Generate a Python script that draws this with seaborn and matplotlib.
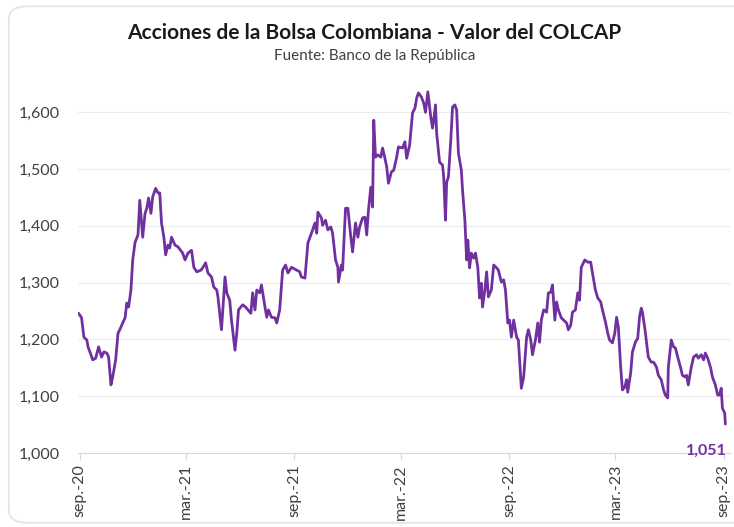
import pandas as pd
import numpy as np
import matplotlib
matplotlib.use("Agg")
import matplotlib.pyplot as plt
from matplotlib.patches import FancyBboxPatch
import seaborn as sns

# Data: days after 2020-09-01 and COLCAP value
days = [-2, 3, 7, 12, 14, 19, 22, 27, 32, 37, 41, 46, 49, 53, 56, 61, 65, 68, 73, 77,
        80, 83, 87, 90, 94, 99, 102, 105, 107, 111, 114, 117, 121, 124, 129, 133, 136, 139, 143, 146,
        150, 153, 156, 162, 167, 175, 179, 184, 190, 194, 199, 206, 209, 214, 218, 224, 228, 233, 235, 241,
        247, 250, 255, 258, 264, 267, 270, 277, 282, 286, 291, 294, 298, 301, 306, 309, 315, 318, 321, 326,
        332, 335, 340, 345, 350, 354, 360, 369, 374, 377, 383, 388, 394, 400, 403, 405, 411, 413, 418, 422,
        427, 430, 435, 439, 440, 445, 447, 452, 456, 461, 464, 469, 473, 476, 481, 485, 488, 491, 495, 498,
        500, 503, 507, 512, 515, 519, 522, 525, 530, 534, 539, 542, 549, 553, 556, 561, 566, 570, 573, 576,
        581, 585, 588, 592, 597, 600, 602, 605, 607, 612, 617, 619, 622, 624, 627, 631, 634, 638, 641, 644,
        649, 651, 655, 658, 660, 663, 666, 670, 673, 677, 680, 683, 685, 689, 692, 695, 700, 704, 709, 712,
        717, 721, 724, 728, 731, 734, 738, 743, 746, 750, 751, 755, 760, 763, 767, 770, 775, 779, 782, 785,
        789, 794, 797, 801, 804, 808, 811, 814, 819, 823, 828, 831, 835, 838, 843, 847, 850, 853, 859, 864,
        869, 872, 877, 881, 886, 889, 894, 898, 901, 906, 910, 913, 916, 920, 923, 927, 930, 932, 937, 940,
        945, 949, 952, 955, 957, 961, 964, 967, 972, 976, 981, 984, 989, 993, 996, 1000, 1001, 1006, 1010, 1013,
        1017, 1022, 1025, 1029, 1032, 1035, 1040, 1044, 1049, 1052, 1057, 1061, 1064, 1068, 1073, 1076, 1081, 1085, 1088, 1091,
        1093, 1097, 1098]

colcap = [1246, 1238, 1204, 1199, 1187, 1173, 1164, 1167, 1187, 1169, 1178, 1176, 1169, 1120, 1134, 1164, 1211, 1217, 1229, 1238,
          1264, 1257, 1287, 1340, 1371, 1384, 1445, 1405, 1380, 1422, 1431, 1449, 1422, 1451, 1466, 1458, 1458, 1405, 1380, 1349,
          1366, 1361, 1380, 1366, 1363, 1352, 1340, 1352, 1357, 1327, 1319, 1322, 1326, 1335, 1317, 1310, 1292, 1287, 1275, 1217,
          1310, 1282, 1269, 1234, 1181, 1211, 1252, 1261, 1257, 1252, 1246, 1282, 1252, 1287, 1282, 1296, 1257, 1239, 1252, 1239,
          1238, 1229, 1252, 1322, 1331, 1317, 1327, 1322, 1319, 1310, 1308, 1370, 1387, 1405, 1387, 1424, 1414, 1401, 1410, 1393,
          1398, 1387, 1340, 1327, 1301, 1331, 1322, 1431, 1431, 1380, 1354, 1405, 1380, 1398, 1414, 1415, 1384, 1428, 1468, 1433,
          1586, 1521, 1525, 1521, 1537, 1519, 1504, 1475, 1495, 1498, 1521, 1539, 1537, 1548, 1519, 1542, 1599, 1607, 1625, 1634,
          1627, 1616, 1600, 1636, 1592, 1572, 1586, 1613, 1563, 1512, 1507, 1486, 1410, 1477, 1486, 1551, 1609, 1613, 1604, 1528,
          1498, 1463, 1410, 1340, 1375, 1326, 1352, 1343, 1352, 1327, 1273, 1299, 1257, 1287, 1319, 1275, 1287, 1331, 1326, 1322,
          1301, 1305, 1287, 1229, 1234, 1204, 1234, 1204, 1199, 1129, 1114, 1134, 1204, 1217, 1199, 1173, 1199, 1229, 1195, 1234,
          1252, 1248, 1282, 1283, 1296, 1234, 1266, 1252, 1238, 1234, 1229, 1217, 1225, 1248, 1252, 1282, 1269, 1327, 1340, 1336,
          1336, 1317, 1287, 1273, 1266, 1252, 1231, 1211, 1199, 1194, 1211, 1239, 1222, 1151, 1111, 1116, 1129, 1107, 1141, 1178,
          1195, 1202, 1239, 1255, 1248, 1220, 1195, 1169, 1160, 1160, 1151, 1137, 1129, 1111, 1102, 1097, 1150, 1199, 1187, 1185,
          1169, 1150, 1137, 1134, 1137, 1120, 1151, 1169, 1173, 1167, 1173, 1164, 1176, 1167, 1150, 1134, 1120, 1102, 1102, 1114,
          1079, 1070, 1051]

tick_dates = ["2020-09-01", "2021-03-01", "2021-09-01", "2022-03-01",
              "2022-09-01", "2023-03-01", "2023-09-01"]
tick_labels = ["sep.-20", "mar.-21", "sep.-21", "mar.-22", "sep.-22", "mar.-23", "sep.-23"]
y_ticks = [1000, 1100, 1200, 1300, 1400, 1500, 1600]

df = pd.DataFrame({
    "fecha": pd.Timestamp("2020-09-01") + pd.to_timedelta(days, unit="D"),
    "colcap": colcap,
})

sns.set_style("white")
plt.rcParams["font.family"] = ["Lato", "DejaVu Sans"]

purple = "#7030A0"
fig = plt.figure(figsize=(7.34, 5.27), dpi=100)
ax = fig.add_axes([0.1063, 0.1404, 0.8883, 0.708])

sns.lineplot(data=df, x="fecha", y="colcap", color=purple, linewidth=2.0, ax=ax)

ax.set_ylim(1000, 1657)
ax.set_xlim(pd.Timestamp("2020-08-29"), pd.Timestamp("2023-09-12"))
ax.set_yticks(y_ticks)
ax.set_yticklabels([f"{v:,}" for v in y_ticks])
ax.set_xticks(pd.to_datetime(tick_dates))
ax.set_xticklabels(tick_labels, rotation=90)
ax.set_xlabel("")
ax.set_ylabel("")

ax.grid(axis="y", color="#ececec", linewidth=0.8)
ax.grid(axis="x", visible=False)
for s in ["top", "right", "left"]:
    ax.spines[s].set_visible(False)
ax.spines["bottom"].set_color("#d9d9d9")
ax.tick_params(axis="y", length=0, pad=13, labelsize=11.5, labelcolor="#404040")
ax.tick_params(axis="x", length=5, color="#d9d9d9", direction="out", bottom=True,
               pad=3, labelsize=11.5, labelcolor="#404040")

# last value label
ax.annotate(f"{colcap[-1]:,}", xy=(df["fecha"].iloc[-1], colcap[-1]), xytext=(-14, -19),
            textcoords="offset points", ha="center", va="center",
            color=purple, fontweight="bold", fontsize=11.5)

fig.text(0.51, 0.938, "Acciones de la Bolsa Colombiana - Valor del COLCAP",
         ha="center", va="center", fontsize=15, fontweight="bold", color="#1a1a1a")
fig.text(0.51, 0.893, "Fuente: Banco de la República", ha="center", va="center",
         fontsize=11, color="#404040")

# rounded card border
card = FancyBboxPatch((0.012, 0.008), 1.05, 0.98, boxstyle="round,pad=0,rounding_size=0.025",
                      transform=fig.transFigure, facecolor="none", edgecolor="#e3e3e3",
                      linewidth=1.2, zorder=0)
fig.patches.append(card)

fig.savefig("out.png", dpi=100)
